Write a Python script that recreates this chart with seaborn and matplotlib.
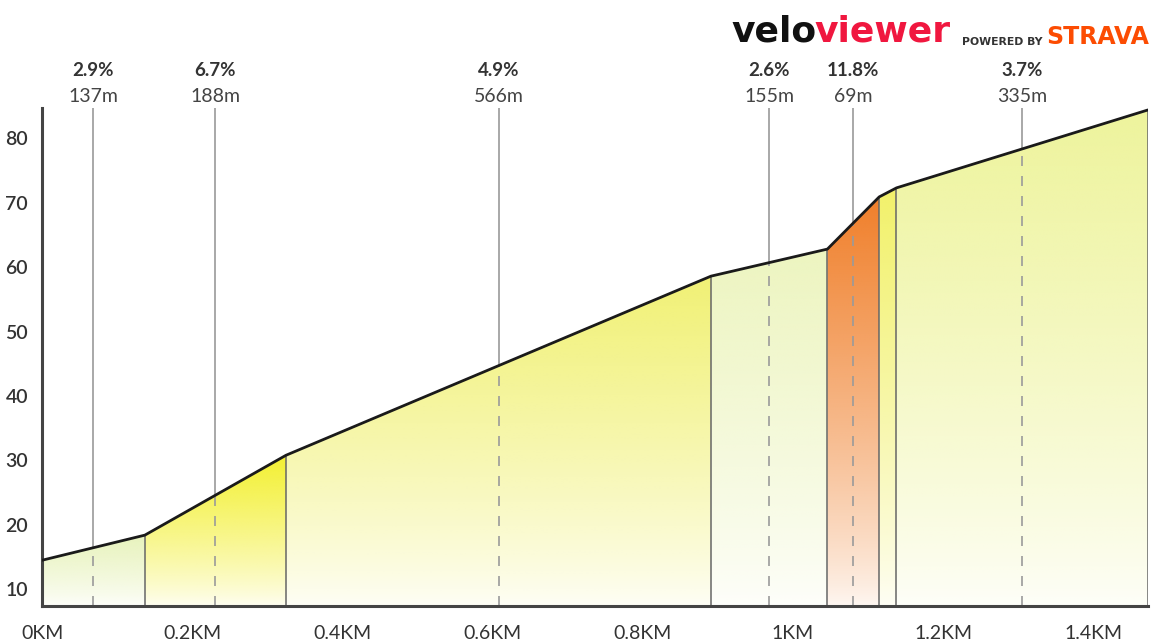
import matplotlib
matplotlib.use("Agg")
import matplotlib.pyplot as plt
import matplotlib.colors as mcolors
import seaborn as sns
import numpy as np
import pandas as pd

# segment boundaries (km) and elevation (m)
dist_km = [0, 0.137, 0.325, 0.891, 1.046, 1.115, 1.138, 1.473]
elev_m = [14.5, 18.4, 30.8, 58.6, 62.8, 70.9, 72.3, 84.4]
grade_labels = ["2.9%", "6.7%", "4.9%", "2.6%", "11.8%", "", "3.7%"]
length_labels = ["137m", "188m", "566m", "155m", "69m", "", "335m"]
seg_colors = ["#e8f3bd", "#f3f032", "#f1f175", "#edf5c0", "#f07f2a", "#f2f16a", "#eef49c"]
x_ticks = [0, 0.2, 0.4, 0.6, 0.8, 1.0, 1.2, 1.4]
x_tick_labels = ["0KM", "0.2KM", "0.4KM", "0.6KM", "0.8KM", "1KM", "1.2KM", "1.4KM"]
y_ticks = [10, 20, 30, 40, 50, 60, 70, 80]

sns.set_theme(style="white")
plt.rcParams['font.family'] = ['Lato', 'DejaVu Sans']

df = pd.DataFrame({"dist": dist_km, "elev": elev_m})
ymin, ymax = 7.4, 84.7

fig = plt.figure(figsize=(11.52, 6.42), dpi=100)
ax = fig.add_axes([42 / 1152, 36 / 642, 1106 / 1152, 498 / 642])

# gradient filled segments
for i in range(len(dist_km) - 1):
    xs = dist_km[i:i + 2]
    ys = elev_m[i:i + 2]
    poly = ax.fill_between(xs, ys, ymin, facecolor="none", edgecolor="none")
    rgb = mcolors.to_rgb(seg_colors[i])
    n = 256
    t = np.linspace(0, 1, n)[:, None]  # 0 bottom -> 1 top
    alpha = 0.06 + 0.94 * t ** 0.8
    img = np.zeros((n, 1, 4))
    img[..., 0], img[..., 1], img[..., 2] = rgb
    img[..., 3] = alpha
    im = ax.imshow(img, extent=[xs[0], xs[1], ymin, max(ys)], origin="lower",
                   aspect="auto", interpolation="bilinear", zorder=1)
    im.set_clip_path(poly.get_paths()[0], transform=ax.transData)

# segment boundary lines
for xb, yb in zip(dist_km[1:], elev_m[1:]):
    ax.plot([xb, xb], [ymin, yb], color="#666666", lw=1.1, zorder=2)

# label lines and texts
for i in range(len(dist_km) - 1):
    if not grade_labels[i]:
        continue
    xm = (dist_km[i] + dist_km[i + 1]) / 2
    ym = np.interp(xm, dist_km, elev_m)
    ax.plot([xm, xm], [ym, ymax], color="#9a9a9a", lw=1.2, zorder=2)
    ax.plot([xm, xm], [ymin, ym], color="#9a9a9a", lw=1.2, ls=(0, (6, 6)), zorder=2)
    tr = ax.get_xaxis_transform()
    ax.text(xm, 1.076, grade_labels[i], transform=tr, ha="center", va="center",
            fontsize=13.5, fontweight="bold", color="#333333")
    ax.text(xm, 1.024, length_labels[i], transform=tr, ha="center", va="center",
            fontsize=14, color="#444444")

sns.lineplot(data=df, x="dist", y="elev", ax=ax, color="#1a1a1a", lw=2, zorder=3)

ax.set_xlim(0, dist_km[-1])
ax.set_ylim(ymin, ymax)
ax.set_xticks(x_ticks)
ax.set_xticklabels(x_tick_labels, fontsize=14, color="#333333")
ax.set_yticks(y_ticks)
ax.set_yticklabels([str(v) for v in y_ticks], fontsize=14, color="#333333", fontweight="semibold")
ax.tick_params(axis="x", length=0, pad=14)
ax.tick_params(axis="y", length=0, pad=10)
ax.set_xlabel("")
ax.set_ylabel("")
for s in ["top", "right"]:
    ax.spines[s].set_visible(False)
for s in ["left", "bottom"]:
    ax.spines[s].set_color("#444444")
    ax.spines[s].set_linewidth(2.2)

# logo
fig.canvas.draw()
renderer = fig.canvas.get_renderer()
t1 = fig.text(731 / 1152, 1 - 31 / 642, "velo", fontsize=26, fontweight="bold", family="DejaVu Sans",
              color="#111111", ha="left", va="center")
bb = t1.get_window_extent(renderer)
fig.text(bb.x1 / 1152 - 2 / 1152, 1 - 31 / 642, "viewer", fontsize=26, fontweight="bold",
         family="DejaVu Sans", color="#f0173f", ha="left", va="center")
fig.text(962 / 1152, 1 - 42 / 642, "POWERED BY", fontsize=7.8, fontweight="bold", family="DejaVu Sans",
         color="#333333", ha="left", va="center")
fig.text(1046 / 1152, 1 - 37 / 642, "STRAVA", fontsize=17, fontweight="bold", family="DejaVu Sans",
         color="#fc4c02", ha="left", va="center")

fig.savefig("out.png", dpi=100)
plt.close(fig)
